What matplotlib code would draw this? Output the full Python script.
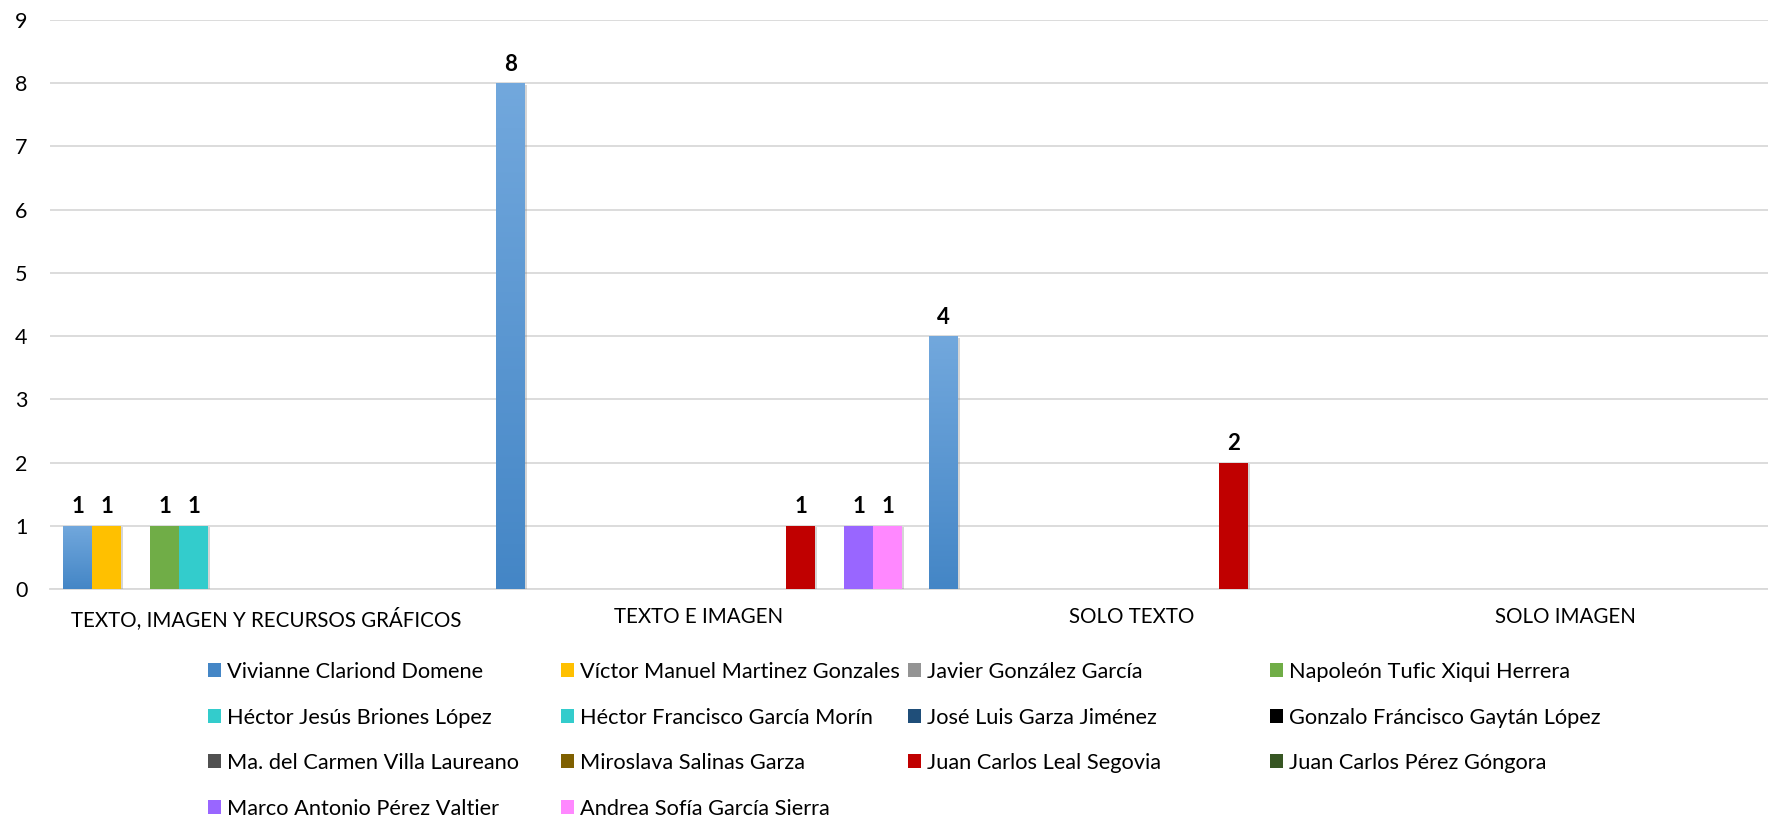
import matplotlib
matplotlib.use("Agg")
import matplotlib.pyplot as plt
import numpy as np
from matplotlib.patches import Patch
from matplotlib.colors import LinearSegmentedColormap
import matplotlib.patheffects as pe

plt.rcParams['font.family'] = ['Lato', 'DejaVu Sans']

categories = ["TEXTO, IMAGEN Y RECURSOS GRÁFICOS", "TEXTO E IMAGEN", "SOLO TEXTO", "SOLO IMAGEN"]
series_names = [
    "Vivianne Clariond Domene", "Víctor Manuel Martinez Gonzales", "Javier González García",
    "Napoleón Tufic Xiqui Herrera", "Héctor Jesús Briones López", "Héctor Francisco García Morín",
    "José Luis Garza Jiménez", "Gonzalo Fráncisco Gaytán López", "Ma. del Carmen Villa Laureano",
    "Miroslava Salinas Garza", "Juan Carlos Leal Segovia", "Juan Carlos Pérez Góngora",
    "Marco Antonio Pérez Valtier", "Andrea Sofía García Sierra",
]
vivianne = [1, 8, 4, 0]
victor = [1, 0, 0, 0]
javier = [0, 0, 0, 0]
napoleon = [1, 0, 0, 0]
hector_jesus = [1, 0, 0, 0]
hector_francisco = [0, 0, 0, 0]
jose_luis = [0, 0, 0, 0]
gonzalo = [0, 0, 0, 0]
carmen = [0, 0, 0, 0]
miroslava = [0, 0, 0, 0]
leal = [0, 1, 2, 0]
perez_gongora = [0, 0, 0, 0]
marco = [0, 1, 0, 0]
andrea = [0, 1, 0, 0]
series_values = [vivianne, victor, javier, napoleon, hector_jesus, hector_francisco, jose_luis,
                 gonzalo, carmen, miroslava, leal, perez_gongora, marco, andrea]
y_ticks = list(range(0, 10))

# (top colour, bottom colour) -- gradient fill like the original
colors = [
    ("#72A8DD", "#4486C6"), ("#FFC000", "#FFC000"), ("#B3B3B3", "#949494"),
    ("#70AD47", "#70AD47"), ("#33CCCC", "#33CCCC"), ("#33CCCC", "#33CCCC"),
    ("#3470AC", "#1F4E79"), ("#000000", "#000000"), ("#7A7A7A", "#505050"),
    ("#AE8419", "#7F6000"), ("#C00000", "#C00000"), ("#527F35", "#375623"),
    ("#9966FF", "#9966FF"), ("#FF88FF", "#FF88FF"),
]

W, H = 1768, 819
fig = plt.figure(figsize=(W / 100, H / 100), dpi=100)
ax = fig.add_axes([49.5 / W, 1 - 589 / H, 1732 / W, 569 / H])

n = len(series_names)
x = np.arange(len(categories))
bw = 29 / 433
shadow = [pe.withSimplePatchShadow(offset=(1.2, -1.2), shadow_rgbFace="#888888", alpha=0.35)]

for j, (name, vals, (ctop, cbot)) in enumerate(zip(series_names, series_values, colors)):
    pos = x + (j - (n - 1) / 2) * bw
    bars = ax.bar(pos, vals, width=bw, color=cbot, linewidth=0, zorder=3, label=name)
    for b, v in zip(bars, vals):
        if v <= 0:
            b.set_visible(False)
            continue
        b.set_path_effects(shadow)
        if ctop != cbot:
            cmap = LinearSegmentedColormap.from_list("g", [cbot, ctop])
            grad = np.linspace(0, 1, 256).reshape(-1, 1)
            im = ax.imshow(grad, cmap=cmap, aspect="auto", origin="lower",
                           extent=[b.get_x(), b.get_x() + b.get_width(), 0, v], zorder=3.5)
            im.set_clip_path(b)
        ax.annotate(f"{v:g}", (b.get_x() + b.get_width() / 2, v), xytext=(0, 6),
                    textcoords="offset points", ha="center", va="bottom",
                    fontsize=16, fontweight="bold", color="black", zorder=5)

ax.set_xlim(-0.5, len(categories) - 0.5)
ax.set_ylim(0, 9)
ax.set_yticks(y_ticks)
ax.set_xticks(x)
ax.set_xticklabels(categories)
ax.tick_params(axis="both", length=0, colors="black")
ax.tick_params(axis="y", pad=16, labelsize=15.5)
ax.tick_params(axis="x", pad=13, labelsize=14.8)
ax.grid(axis="y", color="#D9D9D9", linewidth=1.3, zorder=0)
ax.set_axisbelow(True)
for s in ["left", "right", "top"]:
    ax.spines[s].set_visible(False)
ax.spines["bottom"].set_color("#D9D9D9")
ax.spines["bottom"].set_linewidth(1.3)

# legend: 4 columns, row-major order like the original
handles = [Patch(facecolor=ct if ct == cb else cb, edgecolor="none") for ct, cb in colors]
col_x = [208, 561, 908, 1270]
for c in range(4):
    idx = list(range(c, n, 4))
    fig.legend([handles[i] for i in idx], [series_names[i] for i in idx],
               loc="upper left", bbox_to_anchor=(col_x[c] / W, 1 - 662 / H),
               frameon=False, fontsize=15.7, handlelength=0.6, handleheight=0.6,
               handletextpad=0.25, labelspacing=1.17, borderaxespad=0, borderpad=0)

fig.savefig("out.png", dpi=100)
